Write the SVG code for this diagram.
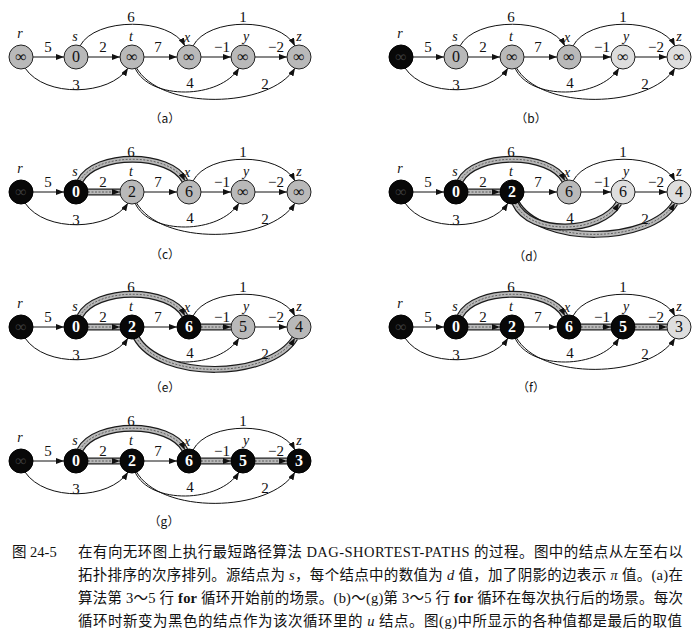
<svg xmlns="http://www.w3.org/2000/svg" width="693" height="636" viewBox="0 0 693 636">
<style>
.e{fill:none;stroke:#111;stroke-width:1;marker-end:url(#ah)}
.s1{fill:none;stroke:#1a1a1a;stroke-width:7}
.s2{fill:none;stroke:#b8b8b8;stroke-width:4.6}
.s3{fill:none;stroke:#555;stroke-width:0.9;stroke-dasharray:2 1.5;marker-end:url(#ah)}
.w{font-family:"Liberation Serif",serif;font-size:15px;fill:#111;text-anchor:middle}
.nl{font-family:"Liberation Serif",serif;font-style:italic;font-size:14px;fill:#111;text-anchor:middle}
.ng{fill:#b9b9b9;stroke:#222;stroke-width:1}
.nlt{fill:#dedede;stroke:#222;stroke-width:1}
.nb{fill:#080808;stroke:#000;stroke-width:1}
.v{font-family:"Liberation Serif",serif;font-size:16px;fill:#111;text-anchor:middle}
.vb{font-family:"Liberation Serif",serif;font-weight:bold;font-size:16px;fill:#fff;text-anchor:middle}
.vi{font-family:"Liberation Serif",serif;font-size:16px;fill:#3a3a3a;text-anchor:middle}
.cap{font-family:"Noto Sans CJK SC",sans-serif;font-size:12px;fill:#111;text-anchor:middle}
.txt{font-family:"Liberation Serif","Noto Sans CJK SC",serif;font-size:14.5px;fill:#111}
</style>
<defs>
<marker id="ah" markerUnits="userSpaceOnUse" markerWidth="8" markerHeight="6" refX="8" refY="3" orient="auto"><path d="M0,0L8,3L0,6z" fill="#111"/></marker>
</defs>
<rect width="693" height="636" fill="#fff"/>

<g id="connectors">
<!-- (a) -->
<g transform="translate(0,0)">
<path class="e" d="M33,57H64"/><path class="e" d="M88,57H120"/><path class="e" d="M144,57H177"/><path class="e" d="M201,57H231"/><path class="e" d="M255,57H287"/>
<path class="e" d="M80,46C95,17 170,17 185,46"/><path class="e" d="M193,46C208,17 280,17 295,46"/>
<path class="e" d="M25,68C45,98 110,96 128,68"/><path class="e" d="M135,68C150,101 220,99 239,68"/><path class="e" d="M136,67C160,111 270,109 295,68"/>
</g>
<!-- (b) -->
<g transform="translate(380,0)">
<path class="e" d="M33,57H64"/><path class="e" d="M88,57H120"/><path class="e" d="M144,57H177"/><path class="e" d="M201,57H231"/><path class="e" d="M255,57H287"/>
<path class="e" d="M80,46C95,17 170,17 185,46"/><path class="e" d="M193,46C208,17 280,17 295,46"/>
<path class="e" d="M25,68C45,98 110,96 128,68"/><path class="e" d="M135,68C150,101 220,99 239,68"/><path class="e" d="M136,67C160,111 270,109 295,68"/>
</g>
<!-- (c) -->
<g transform="translate(0,135)">
<path class="e" d="M33,57H64"/><path class="e" d="M144,57H177"/><path class="e" d="M201,57H231"/><path class="e" d="M255,57H287"/>
<path class="e" d="M193,46C208,17 280,17 295,46"/>
<path class="e" d="M25,68C45,98 110,96 128,68"/><path class="e" d="M135,68C150,101 220,99 239,68"/><path class="e" d="M136,67C160,111 270,109 295,68"/>
<path class="s1" d="M88,57H120"/><path class="s2" d="M88,57H120"/><path class="s3" d="M88,57H120"/>
<path class="s1" d="M80,46C95,17 170,17 185,46"/><path class="s2" d="M80,46C95,17 170,17 185,46"/><path class="s3" d="M80,46C95,17 170,17 185,46"/>
</g>
<!-- (d) -->
<g transform="translate(380,135)">
<path class="e" d="M33,57H64"/><path class="e" d="M144,57H177"/><path class="e" d="M201,57H231"/><path class="e" d="M255,57H287"/>
<path class="e" d="M193,46C208,17 280,17 295,46"/>
<path class="e" d="M25,68C45,98 110,96 128,68"/>
<path class="s1" d="M88,57H120"/><path class="s2" d="M88,57H120"/><path class="s3" d="M88,57H120"/>
<path class="s1" d="M80,46C95,17 170,17 185,46"/><path class="s2" d="M80,46C95,17 170,17 185,46"/><path class="s3" d="M80,46C95,17 170,17 185,46"/>
<path class="s1" d="M136,67C160,111 270,109 295,68"/><path class="s2" d="M136,67C160,111 270,109 295,68"/><path class="s3" d="M136,67C160,111 270,109 295,68"/>
<path class="s1" d="M135,68C150,101 220,99 239,68"/><path class="s2" d="M135,68C150,101 220,99 239,68"/><path class="s3" d="M135,68C150,101 220,99 239,68"/>
</g>
<!-- (e) -->
<g transform="translate(0,270)">
<path class="e" d="M33,57H64"/><path class="e" d="M144,57H177"/><path class="e" d="M255,57H287"/>
<path class="e" d="M193,46C208,17 280,17 295,46"/>
<path class="e" d="M25,68C45,98 110,96 128,68"/><path class="e" d="M135,68C150,101 220,99 239,68"/>
<path class="s1" d="M88,57H120"/><path class="s2" d="M88,57H120"/><path class="s3" d="M88,57H120"/>
<path class="s1" d="M201,57H231"/><path class="s2" d="M201,57H231"/><path class="s3" d="M201,57H231"/>
<path class="s1" d="M80,46C95,17 170,17 185,46"/><path class="s2" d="M80,46C95,17 170,17 185,46"/><path class="s3" d="M80,46C95,17 170,17 185,46"/>
<path class="s1" d="M136,67C160,111 270,109 295,68"/><path class="s2" d="M136,67C160,111 270,109 295,68"/><path class="s3" d="M136,67C160,111 270,109 295,68"/>
</g>
<!-- (f) -->
<g transform="translate(380,270)">
<path class="e" d="M33,57H64"/><path class="e" d="M144,57H177"/>
<path class="e" d="M193,46C208,17 280,17 295,46"/>
<path class="e" d="M25,68C45,98 110,96 128,68"/><path class="e" d="M135,68C150,101 220,99 239,68"/><path class="e" d="M136,67C160,111 270,109 295,68"/>
<path class="s1" d="M88,57H120"/><path class="s2" d="M88,57H120"/><path class="s3" d="M88,57H120"/>
<path class="s1" d="M201,57H231"/><path class="s2" d="M201,57H231"/><path class="s3" d="M201,57H231"/>
<path class="s1" d="M255,57H287"/><path class="s2" d="M255,57H287"/><path class="s3" d="M255,57H287"/>
<path class="s1" d="M80,46C95,17 170,17 185,46"/><path class="s2" d="M80,46C95,17 170,17 185,46"/><path class="s3" d="M80,46C95,17 170,17 185,46"/>
</g>
<!-- (g) -->
<g transform="translate(0,404)">
<path class="e" d="M33,57H64"/><path class="e" d="M144,57H177"/>
<path class="e" d="M193,46C208,17 280,17 295,46"/>
<path class="e" d="M25,68C45,98 110,96 128,68"/><path class="e" d="M135,68C150,101 220,99 239,68"/><path class="e" d="M136,67C160,111 270,109 295,68"/>
<path class="s1" d="M88,57H120"/><path class="s2" d="M88,57H120"/><path class="s3" d="M88,57H120"/>
<path class="s1" d="M201,57H231"/><path class="s2" d="M201,57H231"/><path class="s3" d="M201,57H231"/>
<path class="s1" d="M255,57H287"/><path class="s2" d="M255,57H287"/><path class="s3" d="M255,57H287"/>
<path class="s1" d="M80,46C95,17 170,17 185,46"/><path class="s2" d="M80,46C95,17 170,17 185,46"/><path class="s3" d="M80,46C95,17 170,17 185,46"/>
</g>
</g>

<g id="edge-labels">
<g transform="translate(0,0)"><text class="w" x="48" y="52">5</text><text class="w" x="103" y="52">2</text><text class="w" x="158" y="52">7</text><text class="w" x="222" y="52">−1</text><text class="w" x="276" y="52">−2</text><text class="w" x="131" y="22">6</text><text class="w" x="243" y="22">1</text><text class="w" x="76" y="90">3</text><text class="w" x="190" y="88">4</text><text class="w" x="265" y="89">2</text></g>
<g transform="translate(380,0)"><text class="w" x="48" y="52">5</text><text class="w" x="103" y="52">2</text><text class="w" x="158" y="52">7</text><text class="w" x="222" y="52">−1</text><text class="w" x="276" y="52">−2</text><text class="w" x="131" y="22">6</text><text class="w" x="243" y="22">1</text><text class="w" x="76" y="90">3</text><text class="w" x="190" y="88">4</text><text class="w" x="265" y="89">2</text></g>
<g transform="translate(0,135)"><text class="w" x="48" y="52">5</text><text class="w" x="103" y="52">2</text><text class="w" x="158" y="52">7</text><text class="w" x="222" y="52">−1</text><text class="w" x="276" y="52">−2</text><text class="w" x="131" y="22">6</text><text class="w" x="243" y="22">1</text><text class="w" x="76" y="90">3</text><text class="w" x="190" y="88">4</text><text class="w" x="265" y="89">2</text></g>
<g transform="translate(380,135)"><text class="w" x="48" y="52">5</text><text class="w" x="103" y="52">2</text><text class="w" x="158" y="52">7</text><text class="w" x="222" y="52">−1</text><text class="w" x="276" y="52">−2</text><text class="w" x="131" y="22">6</text><text class="w" x="243" y="22">1</text><text class="w" x="76" y="90">3</text><text class="w" x="190" y="88">4</text><text class="w" x="265" y="89">2</text></g>
<g transform="translate(0,270)"><text class="w" x="48" y="52">5</text><text class="w" x="103" y="52">2</text><text class="w" x="158" y="52">7</text><text class="w" x="222" y="52">−1</text><text class="w" x="276" y="52">−2</text><text class="w" x="131" y="22">6</text><text class="w" x="243" y="22">1</text><text class="w" x="76" y="90">3</text><text class="w" x="190" y="88">4</text><text class="w" x="265" y="89">2</text></g>
<g transform="translate(380,270)"><text class="w" x="48" y="52">5</text><text class="w" x="103" y="52">2</text><text class="w" x="158" y="52">7</text><text class="w" x="222" y="52">−1</text><text class="w" x="276" y="52">−2</text><text class="w" x="131" y="22">6</text><text class="w" x="243" y="22">1</text><text class="w" x="76" y="90">3</text><text class="w" x="190" y="88">4</text><text class="w" x="265" y="89">2</text></g>
<g transform="translate(0,404)"><text class="w" x="48" y="52">5</text><text class="w" x="103" y="52">2</text><text class="w" x="158" y="52">7</text><text class="w" x="222" y="52">−1</text><text class="w" x="276" y="52">−2</text><text class="w" x="131" y="22">6</text><text class="w" x="243" y="22">1</text><text class="w" x="76" y="90">3</text><text class="w" x="190" y="88">4</text><text class="w" x="265" y="89">2</text></g>
</g>

<g id="nodes">
<!-- (a) -->
<g transform="translate(0,0)">
<g id="a-r"><circle class="ng" cx="21" cy="57" r="12"/><text class="v" x="21" y="62">∞</text><text class="nl" x="20" y="38">r</text></g>
<g id="a-s"><circle class="ng" cx="76" cy="57" r="12"/><text class="v" x="76" y="62">0</text><text class="nl" x="75" y="41">s</text></g>
<g id="a-t"><circle class="ng" cx="132" cy="57" r="12"/><text class="v" x="132" y="62">∞</text><text class="nl" x="131" y="41">t</text></g>
<g id="a-x"><circle class="ng" cx="189" cy="57" r="12"/><text class="v" x="189" y="62">∞</text><text class="nl" x="187" y="42">x</text></g>
<g id="a-y"><circle class="ng" cx="243" cy="57" r="12"/><text class="v" x="243" y="62">∞</text><text class="nl" x="246" y="41">y</text></g>
<g id="a-z"><circle class="ng" cx="299" cy="57" r="12"/><text class="v" x="299" y="62">∞</text><text class="nl" x="299" y="41">z</text></g>
</g>
<!-- (b) -->
<g transform="translate(380,0)">
<g id="b-r"><circle class="nb" cx="21" cy="57" r="12"/><text class="vi" x="21" y="62">∞</text><text class="nl" x="20" y="38">r</text></g>
<g id="b-s"><circle class="ng" cx="76" cy="57" r="12"/><text class="v" x="76" y="62">0</text><text class="nl" x="75" y="41">s</text></g>
<g id="b-t"><circle class="ng" cx="132" cy="57" r="12"/><text class="v" x="132" y="62">∞</text><text class="nl" x="131" y="41">t</text></g>
<g id="b-x"><circle class="ng" cx="189" cy="57" r="12"/><text class="v" x="189" y="62">∞</text><text class="nl" x="187" y="42">x</text></g>
<g id="b-y"><circle class="nlt" cx="243" cy="57" r="12"/><text class="v" x="243" y="62">∞</text><text class="nl" x="246" y="41">y</text></g>
<g id="b-z"><circle class="nlt" cx="299" cy="57" r="12"/><text class="v" x="299" y="62">∞</text><text class="nl" x="299" y="41">z</text></g>
</g>
<!-- (c) -->
<g transform="translate(0,135)">
<g id="c-r"><circle class="nb" cx="21" cy="57" r="12"/><text class="vi" x="21" y="62">∞</text><text class="nl" x="20" y="38">r</text></g>
<g id="c-s"><circle class="nb" cx="76" cy="57" r="12"/><text class="vb" x="76" y="62">0</text><text class="nl" x="75" y="41">s</text></g>
<g id="c-t"><circle class="ng" cx="132" cy="57" r="12"/><text class="v" x="132" y="62">2</text><text class="nl" x="131" y="41">t</text></g>
<g id="c-x"><circle class="ng" cx="189" cy="57" r="12"/><text class="v" x="189" y="62">6</text><text class="nl" x="187" y="42">x</text></g>
<g id="c-y"><circle class="ng" cx="243" cy="57" r="12"/><text class="v" x="243" y="62">∞</text><text class="nl" x="246" y="41">y</text></g>
<g id="c-z"><circle class="ng" cx="299" cy="57" r="12"/><text class="v" x="299" y="62">∞</text><text class="nl" x="299" y="41">z</text></g>
</g>
<!-- (d) -->
<g transform="translate(380,135)">
<g id="d-r"><circle class="nb" cx="21" cy="57" r="12"/><text class="vi" x="21" y="62">∞</text><text class="nl" x="20" y="38">r</text></g>
<g id="d-s"><circle class="nb" cx="76" cy="57" r="12"/><text class="vb" x="76" y="62">0</text><text class="nl" x="75" y="41">s</text></g>
<g id="d-t"><circle class="nb" cx="132" cy="57" r="12"/><text class="vb" x="132" y="62">2</text><text class="nl" x="131" y="41">t</text></g>
<g id="d-x"><circle class="ng" cx="189" cy="57" r="12"/><text class="v" x="189" y="62">6</text><text class="nl" x="187" y="42">x</text></g>
<g id="d-y"><circle class="nlt" cx="243" cy="57" r="12"/><text class="v" x="243" y="62">6</text><text class="nl" x="246" y="41">y</text></g>
<g id="d-z"><circle class="nlt" cx="299" cy="57" r="12"/><text class="v" x="299" y="62">4</text><text class="nl" x="299" y="41">z</text></g>
</g>
<!-- (e) -->
<g transform="translate(0,270)">
<g id="e-r"><circle class="nb" cx="21" cy="57" r="12"/><text class="vi" x="21" y="62">∞</text><text class="nl" x="20" y="38">r</text></g>
<g id="e-s"><circle class="nb" cx="76" cy="57" r="12"/><text class="vb" x="76" y="62">0</text><text class="nl" x="75" y="41">s</text></g>
<g id="e-t"><circle class="nb" cx="132" cy="57" r="12"/><text class="vb" x="132" y="62">2</text><text class="nl" x="131" y="41">t</text></g>
<g id="e-x"><circle class="nb" cx="189" cy="57" r="12"/><text class="vb" x="189" y="62">6</text><text class="nl" x="187" y="42">x</text></g>
<g id="e-y"><circle class="ng" cx="243" cy="57" r="12"/><text class="v" x="243" y="62">5</text><text class="nl" x="246" y="41">y</text></g>
<g id="e-z"><circle class="ng" cx="299" cy="57" r="12"/><text class="v" x="299" y="62">4</text><text class="nl" x="299" y="41">z</text></g>
</g>
<!-- (f) -->
<g transform="translate(380,270)">
<g id="f-r"><circle class="nb" cx="21" cy="57" r="12"/><text class="vi" x="21" y="62">∞</text><text class="nl" x="20" y="38">r</text></g>
<g id="f-s"><circle class="nb" cx="76" cy="57" r="12"/><text class="vb" x="76" y="62">0</text><text class="nl" x="75" y="41">s</text></g>
<g id="f-t"><circle class="nb" cx="132" cy="57" r="12"/><text class="vb" x="132" y="62">2</text><text class="nl" x="131" y="41">t</text></g>
<g id="f-x"><circle class="nb" cx="189" cy="57" r="12"/><text class="vb" x="189" y="62">6</text><text class="nl" x="187" y="42">x</text></g>
<g id="f-y"><circle class="nb" cx="243" cy="57" r="12"/><text class="vb" x="243" y="62">5</text><text class="nl" x="246" y="41">y</text></g>
<g id="f-z"><circle class="nlt" cx="299" cy="57" r="12"/><text class="v" x="299" y="62">3</text><text class="nl" x="299" y="41">z</text></g>
</g>
<!-- (g) -->
<g transform="translate(0,404)">
<g id="g-r"><circle class="nb" cx="21" cy="57" r="12"/><text class="vi" x="21" y="62">∞</text><text class="nl" x="20" y="38">r</text></g>
<g id="g-s"><circle class="nb" cx="76" cy="57" r="12"/><text class="vb" x="76" y="62">0</text><text class="nl" x="75" y="41">s</text></g>
<g id="g-t"><circle class="nb" cx="132" cy="57" r="12"/><text class="vb" x="132" y="62">2</text><text class="nl" x="131" y="41">t</text></g>
<g id="g-x"><circle class="nb" cx="189" cy="57" r="12"/><text class="vb" x="189" y="62">6</text><text class="nl" x="187" y="42">x</text></g>
<g id="g-y"><circle class="nb" cx="243" cy="57" r="12"/><text class="vb" x="243" y="62">5</text><text class="nl" x="246" y="41">y</text></g>
<g id="g-z"><circle class="nb" cx="299" cy="57" r="12"/><text class="vb" x="299" y="62">3</text><text class="nl" x="299" y="41">z</text></g>
</g>
</g>

<g id="panel-captions">
<text class="cap" x="165" y="123">（a）</text>
<text class="cap" x="531" y="123">（b）</text>
<text class="cap" x="165" y="259">（c）</text>
<text class="cap" x="529" y="261">（d）</text>
<text class="cap" x="165" y="392">（e）</text>
<text class="cap" x="531" y="392">（f）</text>
<text class="cap" x="164" y="526">（g）</text>
</g>

<g id="figure-caption">
<text class="txt" x="12" y="557">图 24-5</text>
<text class="txt" x="78" y="557" textLength="605" lengthAdjust="spacing">在有向无环图上执行最短路径算法 DAG-SHORTEST-PATHS 的过程。图中的结点从左至右以</text>
<text class="txt" x="78" y="580" textLength="605" lengthAdjust="spacing">拓扑排序的次序排列。源结点为 <tspan font-style="italic">s</tspan>，每个结点中的数值为 <tspan font-style="italic">d</tspan> 值，加了阴影的边表示 <tspan font-style="italic">π</tspan> 值。(a)在</text>
<text class="txt" x="78" y="603" textLength="605" lengthAdjust="spacing">算法第 3～5 行 <tspan font-weight="bold">for</tspan> 循环开始前的场景。(b)～(g)第 3～5 行 <tspan font-weight="bold">for</tspan> 循环在每次执行后的场景。每次</text>
<text class="txt" x="78" y="626" textLength="604" lengthAdjust="spacing">循环时新变为黑色的结点作为该次循环里的 <tspan font-style="italic">u</tspan> 结点。图(g)中所显示的各种值都是最后的取值</text>
</g>
</svg>
